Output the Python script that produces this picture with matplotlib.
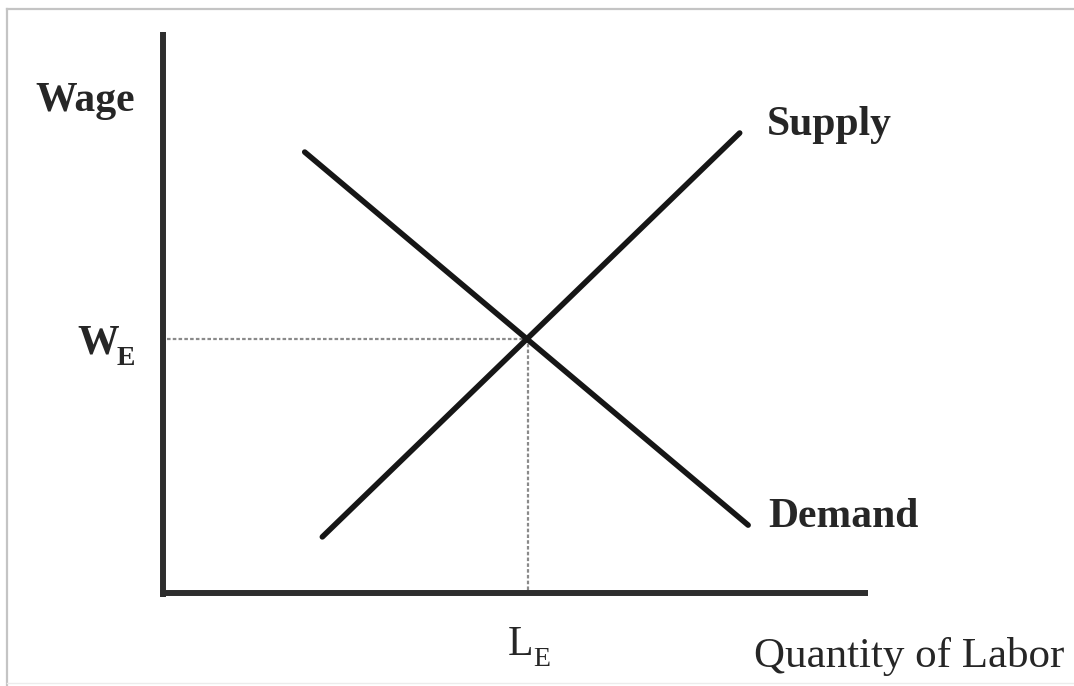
import matplotlib
matplotlib.use("Agg")
import matplotlib.pyplot as plt
from matplotlib.lines import Line2D

plt.rcParams['font.family'] = ['Liberation Serif', 'DejaVu Serif']

# Data (abstract units: quantity 0..10, wage 0..10)
demand_x = [2.01, 8.30]
demand_y = [7.86, 1.21]
supply_x = [2.26, 8.18]
supply_y = [1.00, 8.20]
eq_x = 5.15
eq_y = 4.53

curve_labels = ["Supply", "Demand"]
axis_labels = ["Wage", "Quantity of Labor"]
eq_labels = [("W", "E"), ("L", "E")]

W, H = 1074, 686
fig = plt.figure(figsize=(W / 100, H / 100), dpi=100)

def px(x, y):
    return x / W, 1 - y / H

# border lines (light gray frame of the original image)
fig.add_artist(Line2D([7 / W, 1.0], [1 - 9 / H, 1 - 9 / H], color='#c4c4c4', lw=1.6, transform=fig.transFigure))
fig.add_artist(Line2D([7 / W, 7 / W], [0, 1 - 9 / H], color='#c4c4c4', lw=1.6, transform=fig.transFigure))
fig.add_artist(Line2D([7 / W, 1.0], [3 / H, 3 / H], color='#ececec', lw=1.0, transform=fig.transFigure))

left, right, top, bottom = 163, 868, 32, 593
ax = fig.add_axes([left / W, 1 - bottom / H, (right - left) / W, (bottom - top) / H])
ax.set_xlim(0, 10)
ax.set_ylim(0, 10)
ax.axis('off')
ax.patch.set_alpha(0)

axis_color = '#2e2e2e'
curve_color = '#161616'
text_color = '#262626'

# axes lines
ax.plot([0, 0], [-0.07, 10], color=axis_color, lw=4.3, solid_capstyle='butt', clip_on=False)
ax.plot([-0.04, 10], [0, 0], color=axis_color, lw=4.3, solid_capstyle='butt', clip_on=False)

# dotted guides
ax.plot([0.05, eq_x], [eq_y, eq_y], color='#8a8a8a', lw=1.6, ls=(0, (1.6, 1.0)), clip_on=False)
ax.plot([eq_x + 0.03, eq_x + 0.03], [0.05, eq_y], color='#8a8a8a', lw=1.6, ls=(0, (1.6, 1.0)), clip_on=False)

# curves
ax.plot(demand_x, demand_y, color=curve_color, lw=4.0, solid_capstyle='round', clip_on=False)
ax.plot(supply_x, supply_y, color=curve_color, lw=4.0, solid_capstyle='round', clip_on=False)

fs = 30
ax.text(supply_x[1] + 0.38, supply_y[1] + 0.15, curve_labels[0], fontsize=fs, fontweight='bold',
        color=text_color, ha='left', va='center')
ax.text(demand_x[1] + 0.28, demand_y[1] + 0.15, curve_labels[1], fontsize=fs, fontweight='bold',
        color=text_color, ha='left', va='center')

# axis labels
fig.text(*px(85, 101), axis_labels[0], fontsize=fs, fontweight='bold', color=text_color,
         ha='center', va='center')
fig.text(*px(1064, 657), axis_labels[1], fontsize=31, color=text_color, ha='right', va='center')

# equilibrium labels (letter + lowered subscript)
fig.text(*px(77, 353), eq_labels[0][0], fontsize=fs, fontweight='bold', color=text_color,
         ha='left', va='baseline')
fig.text(*px(117, 365), eq_labels[0][1], fontsize=20, fontweight='bold', color=text_color,
         ha='left', va='baseline')
fig.text(*px(508, 655), eq_labels[1][0], fontsize=fs, color=text_color, ha='left', va='baseline')
fig.text(*px(533, 666), eq_labels[1][1], fontsize=20, color=text_color, ha='left', va='baseline')

fig.savefig('out.png', dpi=100, facecolor='white')
